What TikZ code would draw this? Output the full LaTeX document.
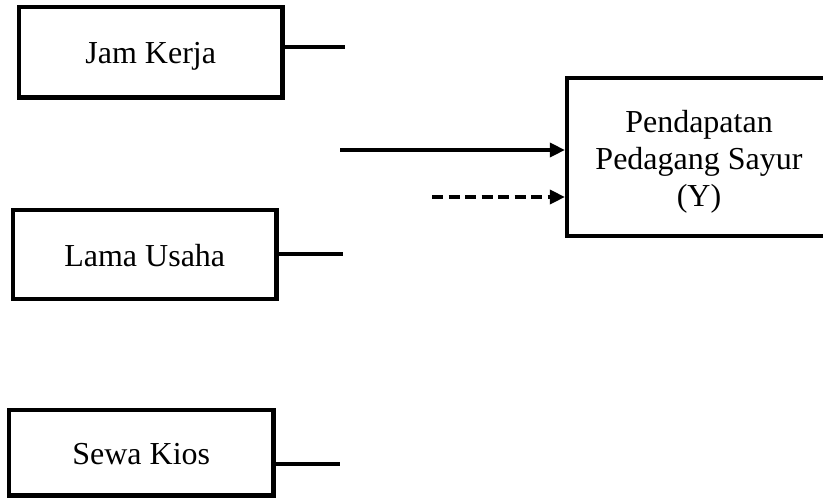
\documentclass[tikz,border=0pt]{standalone}
\usepackage{fontspec}
\setmainfont{Liberation Serif}
\usetikzlibrary{arrows.meta,calc}
\newcommand{\lowertext}[2]{\raisebox{-#1}[\height][\depth]{#2}}
\begin{document}
\begin{tikzpicture}[x=1pt,y=-1pt,
  box/.style={draw,line width=4.2pt,rectangle,inner sep=0pt,align=center,
    font=\fontsize{32}{37}\selectfont},
  link/.style={line width=3.6pt},
  arr/.style={line width=3.4pt,-{Triangle[length=15pt,width=14pt]}},
  dasharr/.style={arr,dash pattern=on 11pt off 5.5pt}]
\useasboundingbox (0,0) rectangle (823,499);
\begin{scope}
\clip (0,0) rectangle (823,499);
\node[box,minimum width=263.5pt,minimum height=90.5pt] (jk) at (150.75,52.25) {\lowertext{4pt}{Jam Kerja}};
\node[box,minimum width=263.5pt,minimum height=89pt] (lu) at (144.75,254.5) {\lowertext{1pt}{Lama Usaha}};
\node[box,minimum width=264.5pt,minimum height=85.5pt] (sk) at (141.25,452.75) {\lowertext{1.5pt}{Sewa Kios}};
\node[box,minimum width=264pt,minimum height=158pt] (y) at (699,157) {};
\node[align=center,inner sep=0pt,font=\fontsize{32}{37}\selectfont] (yt) at (699,162) {Pendapatan\\Pedagang Sayur\\(Y)};
\coordinate (c1) at (345,47);
\coordinate (c2) at (343,254);
\coordinate (c3) at (340,464);
\coordinate (a1) at (340,150);
\coordinate (a2) at (432,197);
\draw[link] (jk.east |- c1) -- (c1);
\draw[link] (lu.east |- c2) -- (c2);
\draw[link] (sk.east |- c3) -- (c3);
\draw[arr] (a1) -- (a1 -| y.west);
\draw[dasharr] (a2) -- (a2 -| y.west);
\end{scope}
\end{tikzpicture}
\end{document}
